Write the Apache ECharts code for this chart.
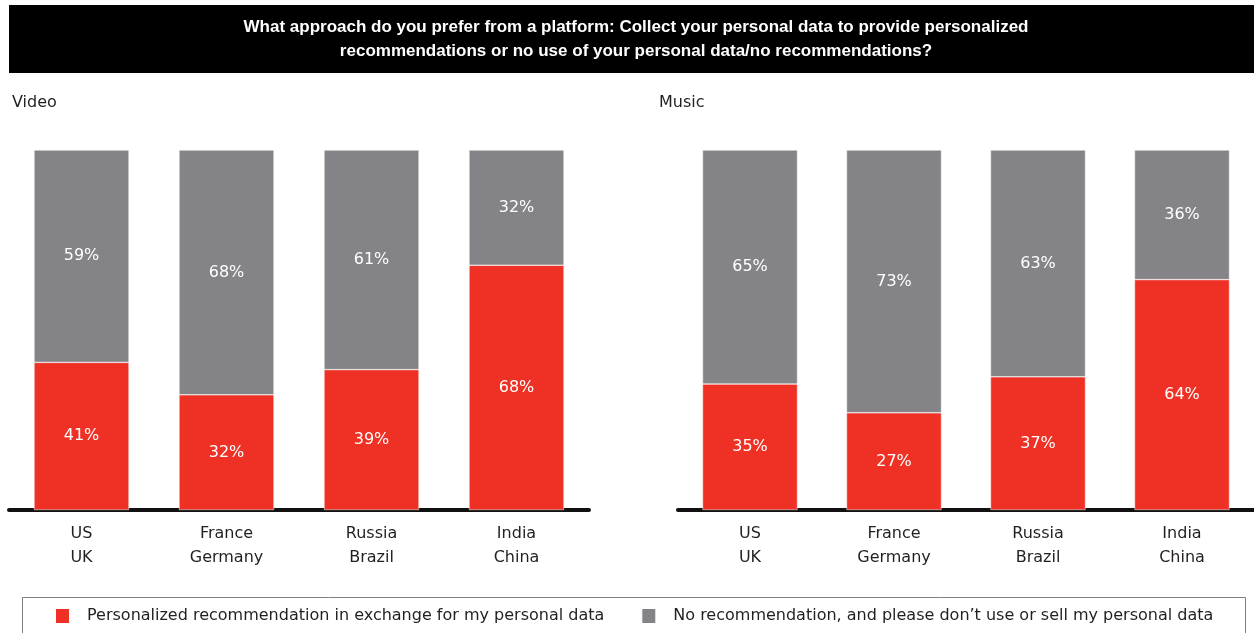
<!DOCTYPE html>
<html>
<head>
<meta charset="utf-8">
<script src="https://cdn.jsdelivr.net/npm/echarts@6/dist/echarts.min.js"></script>
<style>
  html, body { margin: 0; padding: 0; background: #fff; }
  #chart { width: 1254px; height: 633px; }
</style>
</head>
<body>
<div id="chart"></div>
<script>
var categories = ['US\nUK', 'France\nGermany', 'Russia\nBrazil', 'India\nChina'];
var videoPersonalized = [41, 32, 39, 68];
var videoNoRecommend = [59, 68, 61, 32];
var musicPersonalized = [35, 27, 37, 64];
var musicNoRecommend = [65, 73, 63, 36];
var panelNames = ['Video', 'Music'];
var seriesNames = [
  'Personalized recommendation in exchange for my personal data',
  'No recommendation, and please don\u2019t use or sell my personal data'
];

var RED = '#ee3124';
var GRAY = '#848488';
var TEXT = '#231f20';
var FONT = '"DejaVu Sans", "Noto Sans", sans-serif';

var myChart = echarts.init(document.getElementById('chart'));

function xAxisFor(idx) {
  return {
    type: 'category',
    gridIndex: idx,
    data: categories,
    axisTick: { show: false },
    axisLine: { lineStyle: { color: '#111', width: 4 } },
    axisLabel: {
      color: TEXT, fontSize: 16, fontFamily: FONT,
      lineHeight: 24, margin: 12, interval: 0
    }
  };
}

function yAxisFor(idx) {
  return { type: 'value', gridIndex: idx, min: 0, max: 100, show: false };
}

function barSeries(name, idx, data, color, stack) {
  return {
    name: name,
    type: 'bar',
    stack: stack,
    xAxisIndex: idx,
    yAxisIndex: idx,
    barWidth: 95,
    data: data,
    itemStyle: { color: color, borderColor: '#fff', borderWidth: 0.5 },
    label: {
      show: true,
      position: 'inside',
      color: '#fff',
      fontSize: 16,
      fontFamily: FONT,
      formatter: function (p) { return p.value + '%'; }
    }
  };
}

myChart.setOption({
  animation: false,
  title: [
    {
      text: 'What approach do you prefer from a platform: Collect your personal data to provide personalized\nrecommendations or no use of your personal data/no recommendations?',
      left: 631, top: 10, textAlign: 'center',
      textStyle: {
        color: '#fff', fontSize: 17, fontWeight: 'bold',
        fontFamily: '"Liberation Sans", Arial, sans-serif', lineHeight: 24
      }
    },
    {
      text: panelNames[0], left: 7, top: 90,
      textStyle: { color: TEXT, fontSize: 16, fontWeight: 'normal', fontFamily: FONT }
    },
    {
      text: panelNames[1], left: 654, top: 90,
      textStyle: { color: TEXT, fontSize: 16, fontWeight: 'normal', fontFamily: FONT }
    }
  ],
  graphic: [
    {
      type: 'rect', z: -1, silent: true,
      shape: { x: 9, y: 5, width: 1250, height: 68 },
      style: { fill: '#000' }
    },
    {
      type: 'rect', z: -1, silent: true,
      shape: { x: 22.5, y: 597.5, width: 1223, height: 50 },
      style: { fill: 'none', stroke: '#7f7f7f', lineWidth: 1 }
    }
  ],
  legend: {
    left: 49,
    top: 602,
    itemWidth: 15,
    itemHeight: 16,
    itemGap: 36,
    icon: 'rect',
    data: seriesNames,
    textStyle: { color: TEXT, fontSize: 16, fontFamily: FONT, padding: [0, 0, 0, 12] }
  },
  grid: [
    { left: 9, top: 150, width: 580, height: 360 },
    { left: 678, top: 150, width: 580, height: 360 }
  ],
  xAxis: [xAxisFor(0), xAxisFor(1)],
  yAxis: [yAxisFor(0), yAxisFor(1)],
  series: [
    barSeries(seriesNames[0], 0, videoPersonalized, RED, 'video'),
    barSeries(seriesNames[1], 0, videoNoRecommend, GRAY, 'video'),
    barSeries(seriesNames[0], 1, musicPersonalized, RED, 'music'),
    barSeries(seriesNames[1], 1, musicNoRecommend, GRAY, 'music')
  ]
});
</script>
</body>
</html>
